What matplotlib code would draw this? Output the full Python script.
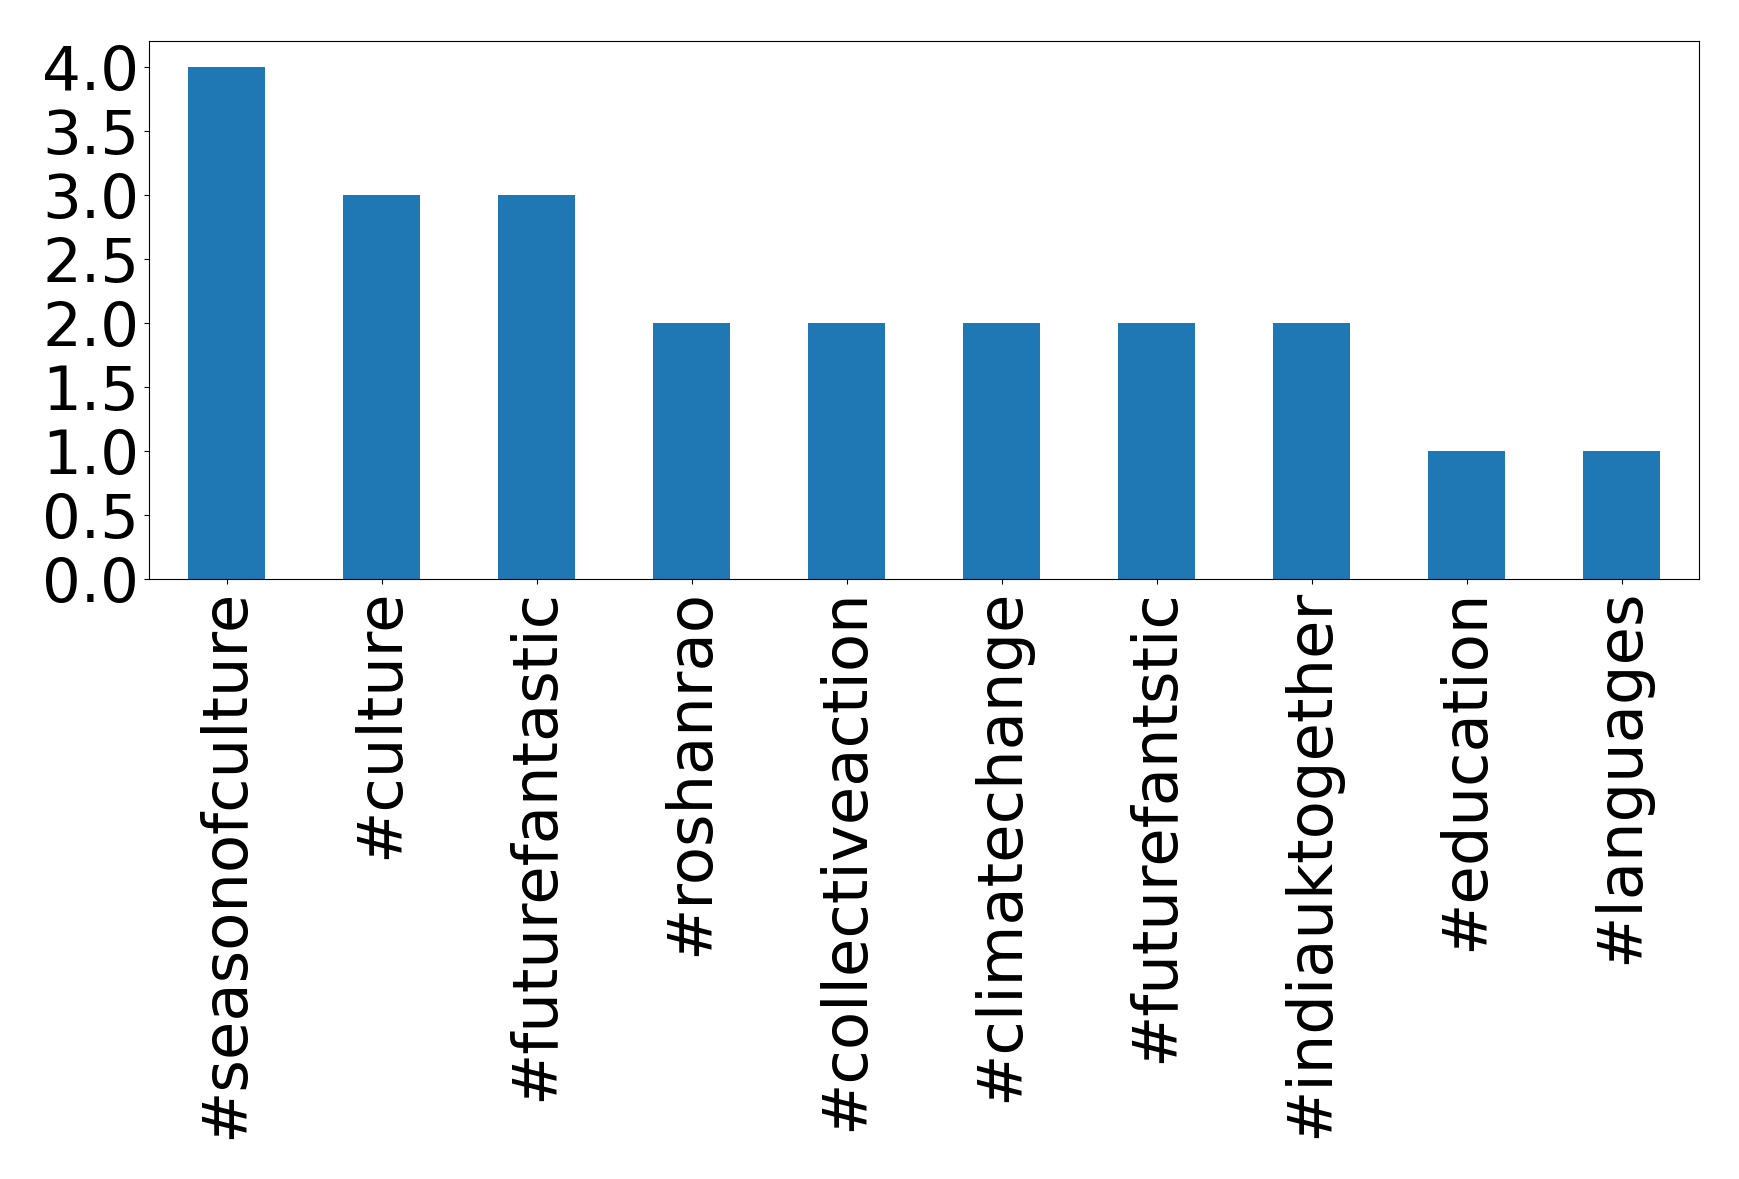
import matplotlib
matplotlib.use("Agg")
import matplotlib.pyplot as plt

tags = ["#seasonofculture", "#culture", "#futurefantastic", "#roshanrao",
        "#collectiveaction", "#climatechange", "#futurefantstic",
        "#indiauktogether", "#education", "#languages"]
counts = [4, 3, 3, 2, 2, 2, 2, 2, 1, 1]

fig = plt.figure(figsize=(17.39, 11.79), dpi=100)
ax = fig.add_axes([149/1739, 1 - 579/1179, (1699-149)/1739, (579-41)/1179])
x = range(len(tags))
ax.bar(x, counts, width=0.5, color="#1f77b4")
ax.set_xlim(-0.5, len(tags) - 0.5)
ax.set_ylim(0, 4.2)
ax.set_yticks([0, 0.5, 1.0, 1.5, 2.0, 2.5, 3.0, 3.5, 4.0])
ax.set_yticklabels(["0.0", "0.5", "1.0", "1.5", "2.0", "2.5", "3.0", "3.5", "4.0"])
ax.set_xticks(list(x))
ax.set_xticklabels(tags, rotation=90)
ax.tick_params(axis="x", labelsize=45)
ax.tick_params(axis="y", labelsize=44)
fig.savefig("out.png", dpi=100)
